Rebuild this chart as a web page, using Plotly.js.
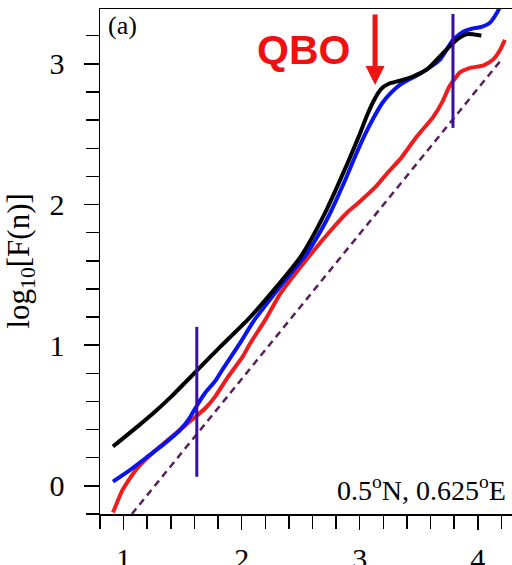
<!DOCTYPE html>
<html>
<head>
<meta charset="utf-8">
<script src="https://cdn.plot.ly/plotly-3.0.1.min.js"></script>
<style>html,body{margin:0;padding:0;background:#fff;}#chart{width:512px;height:565px;}</style>
</head>
<body>
<div id="chart"></div>
<script>
// ---- data ----
const blackX = [0.91,1.13,1.27,1.41,1.61,1.82,2.05,2.27,2.50,2.60,2.70,2.80,2.90,3.00,3.06,3.12,3.18,3.25,3.34,3.45,3.57,3.71,3.82,3.90,3.96,4.03];
const blackY = [0.28,0.43,0.53,0.64,0.81,0.99,1.18,1.39,1.63,1.77,1.93,2.11,2.30,2.50,2.63,2.74,2.82,2.86,2.88,2.91,2.96,3.08,3.17,3.21,3.21,3.20];

const blueX = [0.91,1.05,1.19,1.33,1.47,1.55,1.62,1.69,1.78,1.84,1.99,2.10,2.33,2.55,2.64,2.72,2.80,2.88,2.96,3.04,3.12,3.19,3.26,3.34,3.42,3.51,3.68,3.79,3.88,3.95,4.02,4.10,4.16,4.19,4.22];
const blueY = [0.03,0.11,0.20,0.29,0.39,0.47,0.57,0.66,0.75,0.83,1.02,1.17,1.42,1.65,1.77,1.89,2.03,2.18,2.34,2.49,2.62,2.72,2.79,2.85,2.89,2.93,3.03,3.17,3.23,3.25,3.26,3.29,3.36,3.41,3.48];

const redX = [0.91,0.99,1.10,1.24,1.41,1.55,1.69,1.78,1.88,2.01,2.07,2.20,2.33,2.55,2.78,2.89,3.00,3.14,3.23,3.35,3.48,3.62,3.70,3.76,3.85,3.93,4.05,4.13,4.19,4.23];
const redY = [-0.19,-0.03,0.11,0.23,0.35,0.45,0.55,0.64,0.77,0.92,1.01,1.18,1.37,1.61,1.84,1.94,2.02,2.13,2.22,2.33,2.48,2.62,2.73,2.84,2.94,2.97,2.99,3.03,3.10,3.17];

const refX = [1.07, 4.21];
const refY = [-0.2, 3.04];

const crossover1X = [1.62, 1.62];
const crossover1Y = [0.065, 1.13];
const crossover2X = [3.79, 3.79];
const crossover2Y = [2.545, 3.355];

const xTickVals = [1, 2, 3, 4];
const yTickVals = [0, 1, 2, 3];

const qboTip = {x: 3.13, y: 2.85};

// ---- traces ----
const serif = 'Liberation Serif, Times New Roman, serif';
const traces = [
  {x: refX, y: refY, mode: 'lines', line: {color: '#5b1f5e', width: 2.5, dash: '7px,5px'}, hoverinfo: 'skip'},
  {x: redX, y: redY, mode: 'lines', line: {color: '#ee1c1c', width: 4, shape: 'spline', smoothing: 0.5}},
  {x: blueX, y: blueY, mode: 'lines', line: {color: '#0a14ee', width: 4, shape: 'spline', smoothing: 0.5}},
  {x: blackX, y: blackY, mode: 'lines', line: {color: '#000000', width: 4, shape: 'spline', smoothing: 0.5}},
  {x: crossover1X, y: crossover1Y, mode: 'lines', line: {color: '#3a0ca8', width: 3}},
  {x: crossover2X, y: crossover2Y, mode: 'lines', line: {color: '#3a0ca8', width: 3}}
];

const layout = {
  width: 512, height: 565,
  margin: {l: 100, r: 0, t: 9, b: 51},
  paper_bgcolor: '#fff', plot_bgcolor: '#fff',
  showlegend: false,
  xaxis: {
    range: [0.8, 4.29], tickvals: xTickVals, ticktext: xTickVals.map(String),
    ticks: 'outside', ticklen: 14, tickwidth: 1.5, tickcolor: '#000',
    minor: {dtick: 0.2, tick0: 0, ticks: 'outside', ticklen: 13, tickwidth: 1.5, tickcolor: '#000', showgrid: false},
    showline: true, linecolor: '#000', linewidth: 1.5, mirror: true,
    showgrid: false, zeroline: false,
    tickfont: {family: serif, size: 30, color: '#000'},
    ticklabelstandoff: 3
  },
  yaxis: {
    range: [-0.2, 3.39], tickvals: yTickVals, ticktext: yTickVals.map(String),
    ticks: 'outside', ticklen: 15, tickwidth: 1.5, tickcolor: '#000',
    minor: {dtick: 0.2, tick0: 0, ticks: 'outside', ticklen: 13, tickwidth: 1.5, tickcolor: '#000', showgrid: false},
    showline: true, linecolor: '#000', linewidth: 1.5, mirror: false,
    showgrid: false, zeroline: false,
    tickfont: {family: serif, size: 30, color: '#000'},
    ticklabelstandoff: 13
  },
  annotations: [
    {xref: 'paper', yref: 'paper', x: -0.194, y: 0.5, text: 'log<sub>10</sub>[F(n)]', textangle: -90,
     showarrow: false, font: {family: serif, size: 31, color: '#000'}, xanchor: 'center', yanchor: 'middle'},
    {xref: 'paper', yref: 'paper', x: 0.014, y: 1.0, text: '(a)', showarrow: false,
     font: {family: serif, size: 26, color: '#000'}, xanchor: 'left', yanchor: 'top'},
    {xref: 'paper', yref: 'paper', x: 0.99, y: 0.012, text: '0.5<sup>o</sup>N, 0.625<sup>o</sup>E', showarrow: false,
     font: {family: serif, size: 28, color: '#000'}, xanchor: 'right', yanchor: 'bottom'},
    {xref: 'paper', yref: 'paper', x: 0.493, y: 0.919, text: '<b>QBO</b>', showarrow: false,
     font: {family: 'Liberation Sans, Arial, sans-serif', size: 41, color: '#f01010'}, xanchor: 'center', yanchor: 'middle'},
    {xref: 'x', yref: 'y', x: qboTip.x, y: qboTip.y, ax: 0, ay: -72, text: '', showarrow: true,
     arrowhead: 2, arrowsize: 0.76, arrowwidth: 5, arrowcolor: '#ee1414', standoff: 0}
  ]
};

Plotly.newPlot('chart', traces, layout, {staticPlot: true, displayModeBar: false});
</script>
</body>
</html>
